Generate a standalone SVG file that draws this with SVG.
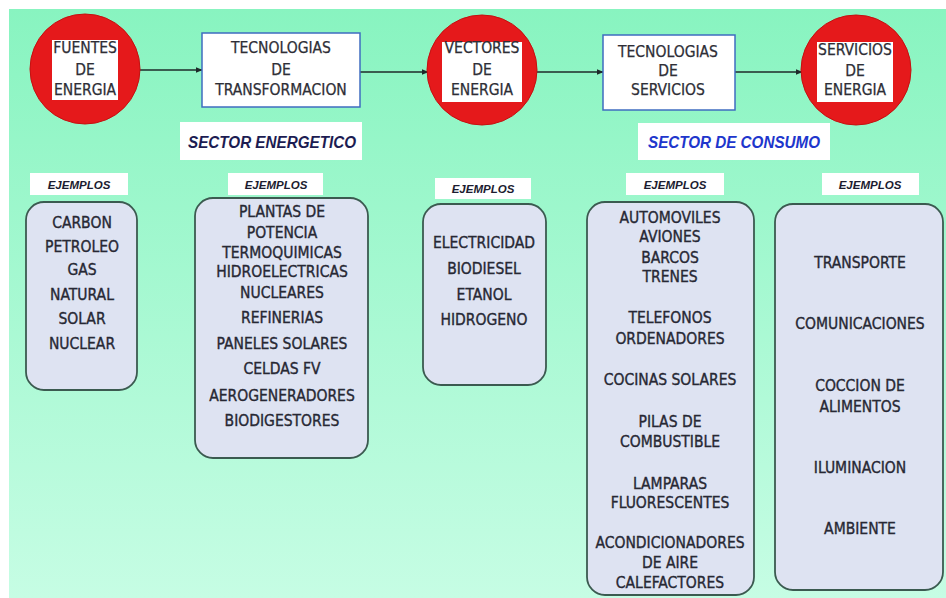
<svg xmlns="http://www.w3.org/2000/svg" width="946" height="598" viewBox="0 0 946 598">
<defs>
<linearGradient id="bg" x1="0" y1="0" x2="0" y2="1">
<stop offset="0" stop-color="#88f4c0"/>
<stop offset="1" stop-color="#c6fde4"/>
</linearGradient>
<marker id="ah" viewBox="0 0 10 10" refX="9" refY="5" markerWidth="7" markerHeight="7" markerUnits="userSpaceOnUse" orient="auto">
<path d="M0,1 L10,5 L0,9 z" fill="#1e2a2a"/>
</marker>
<style>
.t{font-family:"DejaVu Sans Condensed","DejaVu Sans",sans-serif;font-stretch:condensed;font-size:15.5px;fill:#272834;stroke:#272834;stroke-width:0.35;text-anchor:middle}
.h{font-family:"DejaVu Sans Condensed","DejaVu Sans",sans-serif;font-stretch:condensed;font-size:15.5px;fill:#2e2e36;stroke:#2e2e36;stroke-width:0.25;text-anchor:middle}
.circ{fill:#e5191b;stroke:#c51010;stroke-width:1}
.lab{fill:#ffffff}
.tbox{fill:#ffffff;stroke:#3f6cc0;stroke-width:1.5}
.ex{fill:#dee3f2;stroke:#3b5a50;stroke-width:1.8}
.ej{font-family:"Liberation Sans",Arial,sans-serif;font-weight:bold;font-style:italic;font-size:11.5px;fill:#1c1c30;text-anchor:middle}
.sec{font-family:"Liberation Sans",Arial,sans-serif;font-weight:bold;font-style:italic;font-size:16px;text-anchor:middle}
.conn{stroke:#1e2a2a;stroke-width:1.6;fill:none;marker-end:url(#ah)}
</style>
</defs>
<rect x="0" y="0" width="946" height="598" fill="#ffffff"/>
<rect x="9" y="9" width="937" height="589" fill="url(#bg)"/>

<g id="connectors">
<line class="conn" x1="140" y1="70" x2="202" y2="70"/>
<line class="conn" x1="360" y1="72" x2="428" y2="72"/>
<line class="conn" x1="537" y1="72" x2="603" y2="72"/>
<line class="conn" x1="735" y1="72" x2="802" y2="72"/>
</g>

<g id="fuentes">
<circle class="circ" cx="85" cy="69" r="55"/>
<rect class="lab" x="52" y="40" width="66" height="60"/>
<text class="h" x="85" y="53">FUENTES</text>
<text class="h" x="85" y="75">DE</text>
<text class="h" x="85" y="95">ENERGIA</text>
</g>

<g id="tec-transformacion">
<rect class="tbox" x="202" y="33" width="158" height="74"/>
<text class="h" x="281" y="53">TECNOLOGIAS</text>
<text class="h" x="281" y="75">DE</text>
<text class="h" x="281" y="95">TRANSFORMACION</text>
</g>

<g id="vectores">
<circle class="circ" cx="482" cy="70" r="55"/>
<rect class="lab" x="442" y="42" width="80" height="60"/>
<text class="h" x="482" y="53">VECTORES</text>
<text class="h" x="482" y="75">DE</text>
<text class="h" x="482" y="95">ENERGIA</text>
</g>

<g id="tec-servicios">
<rect class="tbox" x="603" y="35" width="132" height="75"/>
<text class="h" x="668" y="57">TECNOLOGIAS</text>
<text class="h" x="668" y="76">DE</text>
<text class="h" x="668" y="95">SERVICIOS</text>
</g>

<g id="servicios">
<circle class="circ" cx="856" cy="70" r="55"/>
<rect class="lab" x="817" y="42" width="76" height="60"/>
<text class="h" x="855" y="55">SERVICIOS</text>
<text class="h" x="855" y="76">DE</text>
<text class="h" x="855" y="95">ENERGIA</text>
</g>

<g id="sector-energetico">
<rect class="lab" x="180" y="122" width="182" height="38"/>
<text class="sec" x="272" y="148" fill="#1c1c52" textLength="168" lengthAdjust="spacingAndGlyphs">SECTOR ENERGETICO</text>
</g>

<g id="sector-consumo">
<rect class="lab" x="638" y="123" width="192" height="37"/>
<text class="sec" x="734" y="148" fill="#2036cc" textLength="172" lengthAdjust="spacingAndGlyphs">SECTOR DE CONSUMO</text>
</g>

<g id="ejemplos-labels">
<rect class="lab" x="30" y="173" width="98" height="22"/>
<text class="ej" x="79" y="189">EJEMPLOS</text>
<rect class="lab" x="228" y="173" width="95" height="22"/>
<text class="ej" x="276" y="189">EJEMPLOS</text>
<rect class="lab" x="435" y="178" width="96" height="21"/>
<text class="ej" x="483" y="193">EJEMPLOS</text>
<rect class="lab" x="626" y="173" width="98" height="22"/>
<text class="ej" x="675" y="189">EJEMPLOS</text>
<rect class="lab" x="822" y="173" width="97" height="22"/>
<text class="ej" x="870" y="189">EJEMPLOS</text>
</g>

<g id="ej-fuentes">
<rect class="ex" x="26" y="202" width="111" height="188" rx="18"/>
<text class="t" x="82" y="228">CARBON</text>
<text class="t" x="82" y="252">PETROLEO</text>
<text class="t" x="82" y="275">GAS</text>
<text class="t" x="82" y="300">NATURAL</text>
<text class="t" x="82" y="324">SOLAR</text>
<text class="t" x="82" y="349">NUCLEAR</text>
</g>

<g id="ej-transformacion">
<rect class="ex" x="195" y="198" width="173" height="260" rx="18"/>
<text class="t" x="282" y="217">PLANTAS DE</text>
<text class="t" x="282" y="238">POTENCIA</text>
<text class="t" x="282" y="258">TERMOQUIMICAS</text>
<text class="t" x="282" y="277">HIDROELECTRICAS</text>
<text class="t" x="282" y="298">NUCLEARES</text>
<text class="t" x="282" y="323">REFINERIAS</text>
<text class="t" x="282" y="349">PANELES SOLARES</text>
<text class="t" x="282" y="374">CELDAS FV</text>
<text class="t" x="282" y="401">AEROGENERADORES</text>
<text class="t" x="282" y="426">BIODIGESTORES</text>
</g>

<g id="ej-vectores">
<rect class="ex" x="423" y="204" width="123" height="181" rx="18"/>
<text class="t" x="484" y="248">ELECTRICIDAD</text>
<text class="t" x="484" y="274">BIODIESEL</text>
<text class="t" x="484" y="300">ETANOL</text>
<text class="t" x="484" y="325">HIDROGENO</text>
</g>

<g id="ej-tec-servicios">
<rect class="ex" x="587" y="202" width="167" height="393" rx="18"/>
<text class="t" x="670" y="223">AUTOMOVILES</text>
<text class="t" x="670" y="242">AVIONES</text>
<text class="t" x="670" y="263">BARCOS</text>
<text class="t" x="670" y="282">TRENES</text>
<text class="t" x="670" y="323">TELEFONOS</text>
<text class="t" x="670" y="344">ORDENADORES</text>
<text class="t" x="670" y="385">COCINAS SOLARES</text>
<text class="t" x="670" y="427">PILAS DE</text>
<text class="t" x="670" y="447">COMBUSTIBLE</text>
<text class="t" x="670" y="489">LAMPARAS</text>
<text class="t" x="670" y="508">FLUORESCENTES</text>
<text class="t" x="670" y="548">ACONDICIONADORES</text>
<text class="t" x="670" y="568">DE AIRE</text>
<text class="t" x="670" y="588">CALEFACTORES</text>
</g>

<g id="ej-servicios">
<rect class="ex" x="775" y="204" width="168" height="386" rx="18"/>
<text class="t" x="860" y="268">TRANSPORTE</text>
<text class="t" x="860" y="329">COMUNICACIONES</text>
<text class="t" x="860" y="391">COCCION DE</text>
<text class="t" x="860" y="412">ALIMENTOS</text>
<text class="t" x="860" y="473">ILUMINACION</text>
<text class="t" x="860" y="534">AMBIENTE</text>
</g>
</svg>
